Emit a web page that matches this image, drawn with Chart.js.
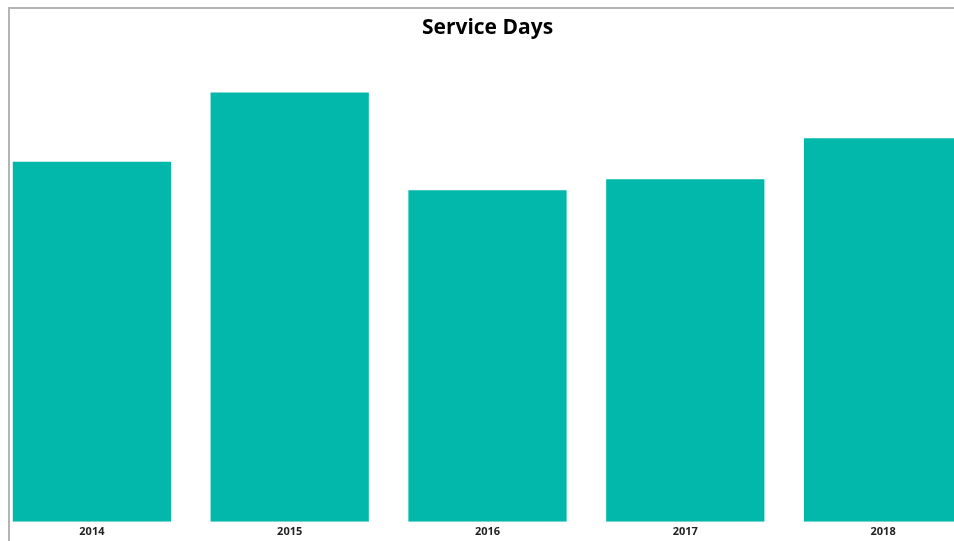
<!DOCTYPE html>
<html>
<head>
<meta charset="utf-8">
<script src="https://cdn.jsdelivr.net/npm/chart.js@4.4.0/dist/chart.umd.min.js"></script>
<style>
  html, body { margin: 0; padding: 0; background: #fff; overflow: hidden; }
  .frame {
    position: absolute; left: 8px; top: 7px; width: 1000px; height: 600px;
    border-top: 2px solid #b4b4b4; border-left: 2px solid #b4b4b4;
  }
  .wrap { position: absolute; left: -7px; top: 0; width: 989px; height: 541px; }
</style>
</head>
<body>
<div class="frame"></div>
<div class="wrap"><canvas id="chart"></canvas></div>
<script>
const years = ['2014', '2015', '2016', '2017', '2018'];
const serviceDays = [228, 272, 210, 217, 243];
const yMax = 300;

new Chart(document.getElementById('chart').getContext('2d'), {
  type: 'bar',
  data: {
    labels: years,
    datasets: [
      {
        data: serviceDays,
        backgroundColor: '#01B8AA',
        borderWidth: 0,
        categoryPercentage: 1,
        barPercentage: 0.8,
      },
    ],
  },
  options: {
    animation: false,
    responsive: true,
    maintainAspectRatio: false,
    layout: { padding: { left: 0, right: 0, top: 0, bottom: -1 } },
    scales: {
      x: {
        grid: { display: false, drawTicks: false },
        border: { display: false },
        ticks: {
          color: '#222',
          padding: 3.5,
          font: { family: "'Open Sans', sans-serif", size: 11, weight: 'bold' },
        },
      },
      y: {
        display: false,
        min: 0,
        max: yMax,
      },
    },
    plugins: {
      legend: { display: false },
      tooltip: { enabled: false },
      title: {
        display: true,
        text: 'Service Days',
        color: '#000',
        padding: { top: 15, bottom: 8 },
        font: { family: "'Open Sans', sans-serif", size: 21, weight: 'bold' },
      },
    },
  },
});
</script>
</body>
</html>
